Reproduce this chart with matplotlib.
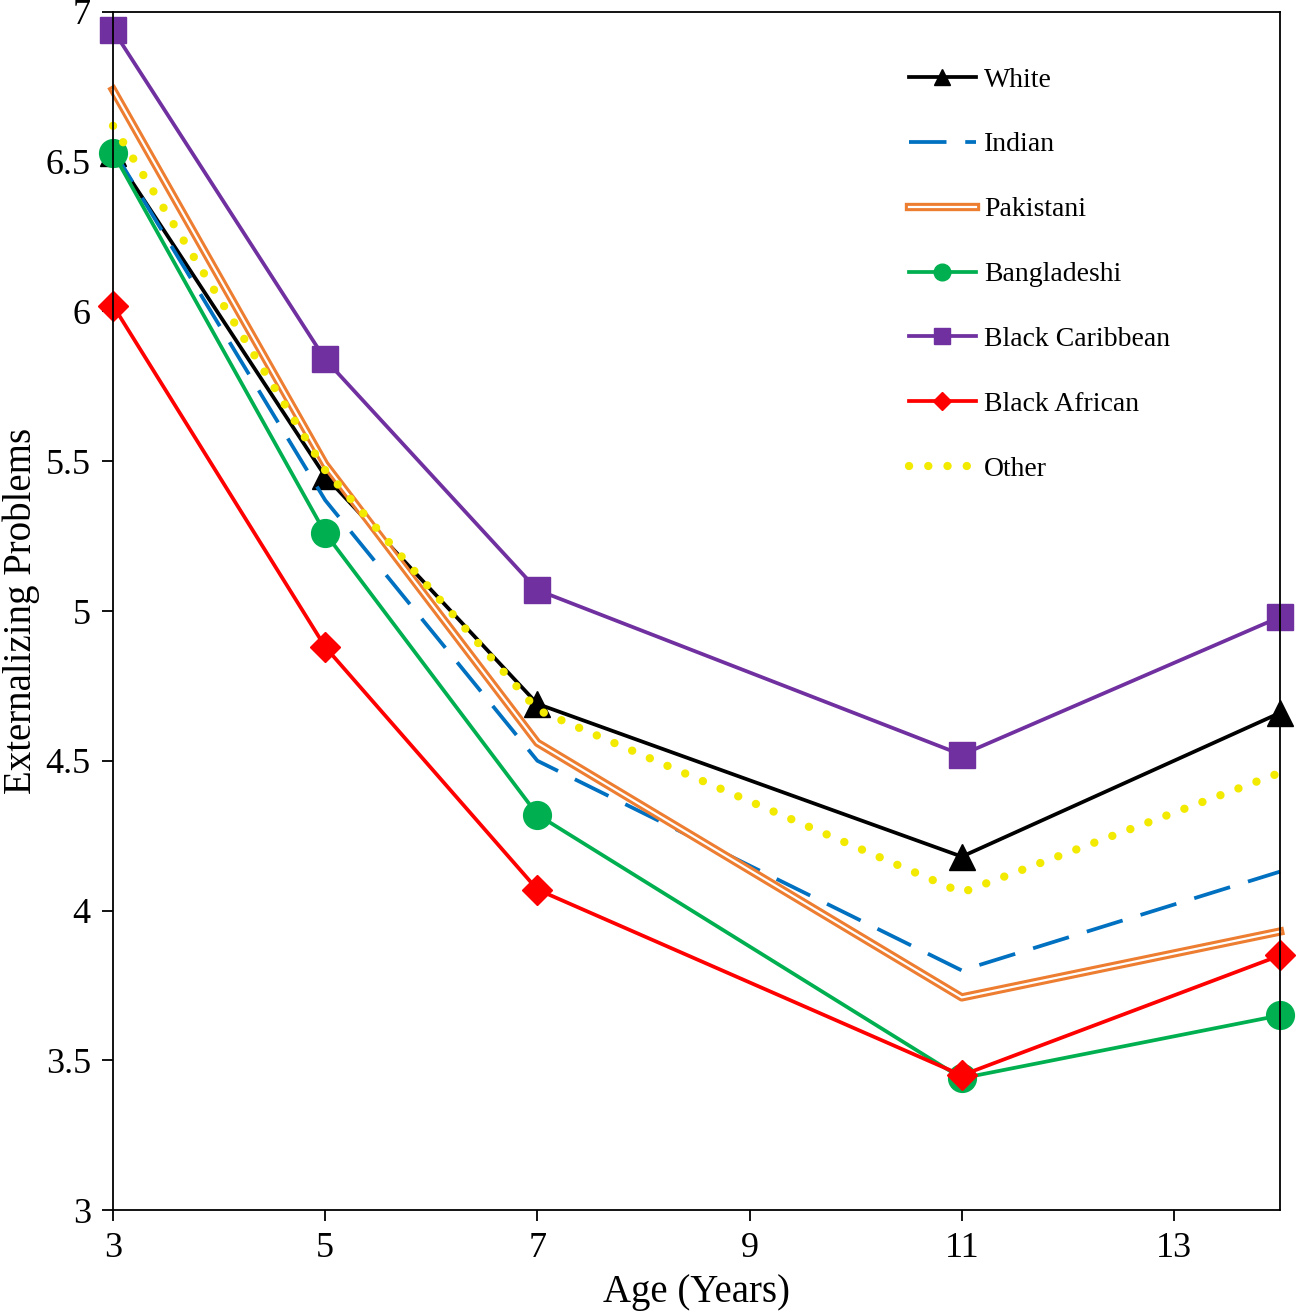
import matplotlib.pyplot as plt
import matplotlib.patheffects as pe

plt.rcParams['font.family'] = ['Liberation Serif', 'DejaVu Serif']

ages = [3, 5, 7, 11, 14]

white = [6.53, 5.45, 4.69, 4.18, 4.66]
indian = [6.54, 5.37, 4.50, 3.80, 4.13]
pakistani = [6.74, 5.49, 4.56, 3.71, 3.93]
bangladeshi = [6.53, 5.26, 4.32, 3.44, 3.65]
black_caribbean = [6.94, 5.84, 5.07, 4.52, 4.98]
black_african = [6.02, 4.88, 4.07, 3.45, 3.85]
other = [6.62, 5.47, 4.67, 4.06, 4.46]

x_ticks = [3, 5, 7, 9, 11, 13]
y_ticks = [3, 3.5, 4, 4.5, 5, 5.5, 6, 6.5, 7]

fig = plt.figure(figsize=(12.96, 13.16), dpi=100)
ax = fig.add_axes([0.0872, 0.0805, 0.9005, 0.9104])

lw = 2.7
ax.plot(ages, white, color='black', lw=lw, marker='^', ms=19, label='White', clip_on=False)
ax.plot(ages, indian, color='#0070C0', lw=lw, linestyle=(0, (10, 5)), label='Indian', clip_on=False)
ax.plot(ages, pakistani, color='white', lw=1.6, label='Pakistani', clip_on=False,
        path_effects=[pe.Stroke(linewidth=6, foreground='#ED7D31'), pe.Normal()])
ax.plot(ages, bangladeshi, color='#00B050', lw=lw, marker='o', ms=20, label='Bangladeshi', clip_on=False)
ax.plot(ages, black_caribbean, color='#7030A0', lw=lw, marker='s', ms=19, label='Black Caribbean', clip_on=False)
ax.plot(ages, black_african, color='#FF0000', lw=lw, marker='D', ms=15, label='Black African', clip_on=False)
ax.plot(ages, other, color='#F2EA00', lw=6, linestyle=(0, (0.01, 2.3)), dash_capstyle='round',
        label='Other', clip_on=False)

ax.set_xlim(3, 14)
ax.set_ylim(3, 7)
ax.set_xticks(x_ticks)
ax.set_yticks(y_ticks)
ax.set_yticklabels(['3', '3.5', '4', '4.5', '5', '5.5', '6', '6.5', '7'])
ax.tick_params(direction='out', length=8, width=1.3, labelsize=26, pad=8)
for s in ax.spines.values():
    s.set_linewidth(1.3)

ax.set_xlabel('Age (Years)', fontsize=28, labelpad=6)
ax.set_ylabel('Externalizing Problems', fontsize=28, labelpad=4)

leg = ax.legend(loc='upper left', bbox_to_anchor=(0.682, 0.968), bbox_transform=fig.transFigure,
                frameon=False, fontsize=20, handlelength=2.4, handletextpad=0.3,
                labelspacing=1.42, markerscale=0.6)

fig.savefig('out.png', dpi=100)
